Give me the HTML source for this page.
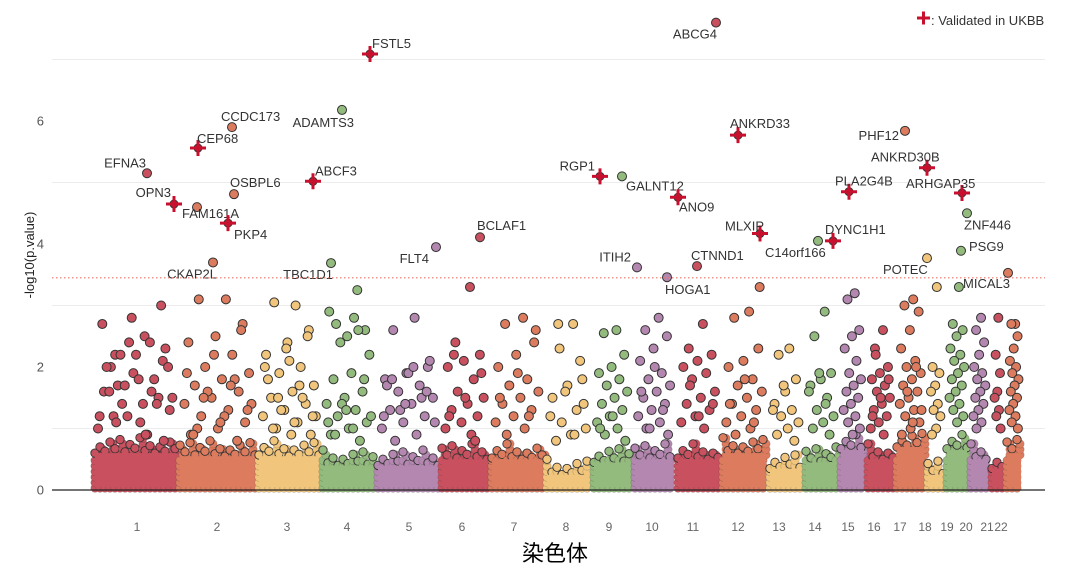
<!DOCTYPE html>
<html><head><meta charset="utf-8"><style>
html,body{margin:0;padding:0;background:#fff;}
svg{display:block;font-family:"Liberation Sans","Noto Sans CJK SC",sans-serif;}
</style></head><body>
<svg id="chart" width="1080" height="567" viewBox="0 0 1080 567" xmlns="http://www.w3.org/2000/svg">
<g id="grid"></g>
<g id="base"></g>
<g id="pts"></g>
<g id="hits"></g>
<g id="axes"></g>
<g>
<path d="M917 18h13M923.5 11.5v13" stroke="#c8102e" stroke-width="3"/>
<text x="931" y="25" font-size="13" fill="#333">: Validated in UKBB</text>
</g>
<text x="555" y="561" font-size="22" text-anchor="middle" fill="#000">染色体</text>
<text transform="translate(34,255) rotate(-90)" font-size="13" text-anchor="middle" fill="#222">-log10(p.value)</text>
</svg>
<script>
const chromNames=["1","2","3","4","5","6","7","8","9","10","11","12","13","14","15","16","17","18","19","20","21","22"];
const chromStarts=[93,178,257,321,376,440,490,545,592,633,676,721,768,804,839,866,895,926,945,969,990,1005];
const chromEnds=[178,257,321,376,440,490,545,592,633,676,721,768,804,839,866,895,926,945,969,990,1005,1023];
const chromLabelX=[137,217,287,347,409,462,514,566,609,652,693,738,779,815,848,874,900,925,947,966,987,1001];
const baseTops=[0.6,0.55,0.55,0.4,0.4,0.5,0.5,0.25,0.45,0.5,0.5,0.6,0.35,0.45,0.65,0.5,0.7,0.25,0.65,0.5,0.35,0.6];
const scatterVals=[
[2.5,2.2,2.1,1.9,1.6,1.6,1.4,1.3,1.1,2.0,1.5,2.4,1.2,0.9,1.7,2.3,2.2,2.0,1.8,1.7,1.5,1.4,1.2,3.0,2.8,2.7,2.4,2.2,2.0,1.8,1.6,1.4,1.2,1.0,0.9,1.1,0.8],
[3.1,3.1,2.7,2.5,2.4,2.2,2.0,1.9,1.8,1.7,1.6,1.5,1.4,1.3,1.2,1.1,1.0,0.9,1.8,1.6,1.4,1.2,1.0,2.6,2.2,1.9,1.7,1.5,1.3,1.1,0.9,0.8],
[3.0,3.05,2.6,2.4,2.2,2.0,1.9,1.7,1.6,1.5,1.4,1.3,1.2,1.1,1.0,0.9,2.1,1.8,1.5,1.3,1.2,1.1,1.0,2.5,2.3,2.0,1.7,1.5,1.2,0.9],
[2.8,2.7,2.6,2.5,2.9,2.6,2.4,2.2,1.9,1.8,1.6,1.5,1.4,1.3,1.2,1.1,1.0,0.9,0.8,1.4,1.2,1.0,0.9,1.8,1.3,1.1,3.25],
[2.8,2.6,2.0,1.9,1.8,1.7,1.6,1.5,1.4,1.3,1.2,1.1,1.0,0.9,0.8,2.1,1.9,1.7,1.5,1.3,1.1,2.0,1.8,1.6,1.4,1.2],
[3.3,2.2,2.2,2.1,2.0,1.8,1.6,1.5,1.4,1.3,1.2,1.1,1.0,0.9,2.4,1.9,1.5,1.2,0.8],
[2.8,2.7,2.4,2.2,2.0,1.8,1.7,1.6,1.5,1.4,1.3,1.2,1.1,1.0,0.9,2.6,1.9,1.5,1.2],
[2.7,2.7,1.8,1.7,1.5,1.3,1.1,1.0,0.9,0.8,2.1,1.6,1.2,0.9,2.3,1.4],
[2.6,2.55,2.2,2.0,1.9,1.8,1.7,1.6,1.5,1.4,1.3,1.2,1.1,1.0,0.9,0.8,1.2,1.0],
[2.8,2.6,2.5,2.3,2.1,1.9,1.8,1.7,1.6,1.5,1.4,1.3,1.2,1.1,1.0,0.9,2.0,1.6,1.3,1.0],
[2.7,2.3,2.2,2.1,2.0,1.9,1.8,1.6,1.5,1.4,1.3,1.2,1.1,1.0,1.7,1.4,1.2],
[2.9,2.8,2.3,2.1,2.0,1.8,1.7,1.6,1.5,1.4,1.3,1.2,1.1,1.0,0.9,3.3,1.8,1.4,1.1],
[2.3,2.2,1.8,1.6,1.4,1.3,1.2,1.1,1.0,0.9,0.8,1.7,1.3],
[2.9,2.5,1.9,1.8,1.7,1.5,1.3,1.2,1.1,1.0,0.9,1.9,1.6,1.4],
[3.2,3.1,2.6,2.5,2.3,2.1,1.9,1.8,1.7,1.6,1.5,1.4,1.3,1.2,1.1,1.0,0.9],
[2.6,2.3,2.0,1.9,1.8,1.7,1.6,1.5,1.4,1.3,1.2,1.1,1.0,0.9,2.2,1.8,1.5,1.2],
[3.1,3.0,2.9,2.6,2.3,2.1,2.0,1.9,1.8,1.7,1.6,1.5,1.4,1.3,1.2,1.1,1.0,0.9,2.0,1.6,1.3,1.1],
[3.3,2.0,1.9,1.7,1.6,1.4,1.3,1.2,1.0,0.9],
[3.3,2.7,2.6,2.5,2.3,2.2,2.1,2.0,1.9,1.8,1.7,1.6,1.5,1.4,1.3,1.2,1.1],
[2.8,2.6,2.4,2.2,2.0,1.9,1.8,1.7,1.6,1.5,1.4,1.3,1.2,1.1,1.0],
[2.8,2.2,1.9,1.6,1.5,1.3,1.2,1.0],
[2.7,2.7,2.5,2.3,2.1,2.0,1.9,1.8,1.7,1.6,1.5,1.4,1.3,1.2,1.1,1.0]
];
const hitGenes=["FSTL5","ADAMTS3","CCDC173","CEP68","EFNA3","OSBPL6","ABCF3","OPN3","FAM161A","PKP4","BCLAF1","FLT4","CKAP2L","TBC1D1","ABCG4","ANKRD33","PHF12","ANKRD30B","RGP1","GALNT12","ANO9","PLA2G4B","ARHGAP35","ZNF446","MLXIP","DYNC1H1","C14orf166","PSG9","POTEC","ITIH2","CTNND1","HOGA1","MICAL3"];
const hitPos=[370,342,232,198,147,234,313,174,197,228,480,436,213,331,716,738,905,927,600,622,678,849,962,967,760,833,818,961,927,637,697,667,1008];
const hitVals=[7.09,6.18,5.9,5.56,5.15,4.81,5.02,4.65,4.6,4.34,4.11,3.95,3.7,3.69,7.6,5.77,5.84,5.24,5.1,5.1,4.76,4.85,4.83,4.5,4.17,4.05,4.05,3.89,3.77,3.62,3.64,3.46,3.53];
const hitValidated=[1,0,0,1,0,0,1,1,0,1,0,0,0,0,0,1,0,1,1,0,1,1,1,0,1,1,0,0,0,0,0,0,0];
const threshold=3.45;
const yTicks=[0,2,4,6];
const gridVals=[1,3,5,7];
</script>
<script>
const NS="http://www.w3.org/2000/svg";
const colors=["#c9505e","#dc7b5e","#f1c67c","#93bb7d","#b487b0"];
const X0=52,X1=1045;
function yScale(v){return 490-v*61.5;}
function chrColor(i){return colors[i%5];}
function mk(tag,attrs,parent){const e=document.createElementNS(NS,tag);for(const k in attrs)e.setAttribute(k,attrs[k]);parent.appendChild(e);return e;}
const labelDx=[2,12,-11,-1,-1,-4,2,-3,-15,6,-3,-7,4,2,1,-8,-6,-56,-5,4,1,-14,-56,-3,-35,-8,-53,8,-44,-6,-6,-2,-45];
const labelDy=[-6,17,-6,-5,-6,-7,-6,-7,11,16,-7,16,16,16,16,-7,9,-6,-6,14,14,-6,-5,16,-3,-7,16,0,16,-6,-6,17,15];
const labelAnchor=["start","end","start","start","end","start","start","end","start","start","start","end","end","end","end","start","end","start","end","start","start","start","start","start","start","start","start","start","start","end","start","start","start"];
const grid=document.getElementById('grid');
gridVals.forEach(v=>{const l=mk('line',{x1:X0,x2:X1,y1:yScale(v),y2:yScale(v),stroke:'#ececec','stroke-width':1},grid);

});
const base=document.getElementById('base');
const wiggle=[0,0.1,0.03,0.18,0.07,0.22,0.02,0.14,0.08,0.25,0.04,0.12];
chromNames.forEach((c,i)=>{
  const s=chromStarts[i]+2,e=chromEnds[i]-2,col=chrColor(i);
  const g=mk('g',{},base);
  
  
  let k=i*3;
  for(let x=s;x<=e;x+=5){const t=baseTops[i]+wiggle[k%wiggle.length];k++;
    for(let v=0.03;v<=t;v+=0.09){mk('circle',{cx:x+((v*100)%3),cy:yScale(v),r:4.2,fill:col,stroke:'#333','stroke-width':0.5,'stroke-opacity':0.35},g);}
    mk('circle',{cx:x,cy:yScale(t),r:4.2,fill:col,stroke:'#333','stroke-width':0.9},g);
  }
  mk('rect',{x:s,y:yScale(baseTops[i]),width:e-s,height:yScale(0)-yScale(baseTops[i])-3,fill:col},g);
});
const pts=document.getElementById('pts');
scatterVals.forEach((arr,i)=>{
  const s=chromStarts[i]+4,w=chromEnds[i]-chromStarts[i]-8;
  arr.forEach((v,j)=>{const f=((j+1)*0.6180339)%1;
    const c=mk('circle',{cx:s+w*f,cy:yScale(v),r:4.5,fill:chrColor(i),stroke:'#333','stroke-width':1},pts);
    
    });
});
const axes=document.getElementById('axes');
const th=mk('line',{x1:X0,x2:X1,y1:yScale(threshold),y2:yScale(threshold),stroke:'#e8766a','stroke-width':1.2,'stroke-dasharray':'1.5,2.5'},axes);


const ax=mk('line',{x1:X0,x2:X1,y1:yScale(0),y2:yScale(0),stroke:'#222','stroke-width':1.2},axes);


yTicks.forEach(v=>{const t=mk('text',{x:44,y:yScale(v)+4.5,'font-size':13,'text-anchor':'end',fill:'#555'},axes);t.textContent=v;

});
chromNames.forEach((c,i)=>{const t=mk('text',{x:chromLabelX[i],y:531,'font-size':12,'text-anchor':'middle',fill:'#666'},axes);t.textContent=c;

});
const hits=document.getElementById('hits');
hitGenes.forEach((gname,i)=>{
  const x=hitPos[i],y=yScale(hitVals[i]);
  let ci=0;for(let k=0;k<chromStarts.length;k++){if(x>=chromStarts[k])ci=k;}
  const g=mk('g',{},hits);
  
  
  if(hitValidated[i]){
    mk('circle',{cx:x,cy:y,r:4,fill:'#b0202e',stroke:'#333','stroke-width':1},g);
    mk('path',{d:`M${x-8} ${y}h16M${x} ${y-8}v16`,stroke:'#c8102e','stroke-width':3},g);
  } else {
    mk('circle',{cx:x,cy:y,r:4.5,fill:chrColor(ci),stroke:'#333','stroke-width':1},g);
  }
  const t=mk('text',{x:x+labelDx[i],y:y+labelDy[i],'font-size':13,'text-anchor':labelAnchor[i],fill:'#333'},g);
  t.textContent=gname;
  
  
});
</script>
</body></html>
